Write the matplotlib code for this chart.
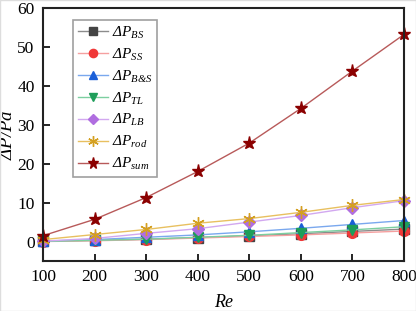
import matplotlib
matplotlib.use("Agg")
import matplotlib.pyplot as plt

re_vals = [100, 200, 300, 400, 500, 600, 700, 800]
dp_bs = [0.05, 0.3, 0.6, 1.0, 1.5, 2.0, 2.6, 3.2]
dp_ss = [0.0, 0.2, 0.5, 0.9, 1.3, 1.7, 2.2, 2.7]
dp_bs2 = [0.1, 0.5, 1.1, 1.7, 2.5, 3.4, 4.4, 5.4]
dp_tl = [0.05, 0.3, 0.6, 1.1, 1.6, 2.3, 3.0, 3.8]
dp_lb = [0.1, 0.8, 2.1, 3.3, 5.0, 6.7, 8.7, 10.5]
dp_rod = [0.5, 1.8, 3.1, 4.7, 5.9, 7.5, 9.3, 10.8]
dp_sum = [1.5, 5.7, 11.3, 18.0, 25.3, 34.2, 43.8, 53.2]

labels = [r"$ΔP_{BS}$", r"$ΔP_{SS}$", r"$ΔP_{B&S}$",
          r"$ΔP_{TL}$", r"$ΔP_{LB}$", r"$ΔP_{rod}$",
          r"$ΔP_{sum}$"]

plt.rcParams['font.family'] = ['Liberation Serif', 'DejaVu Serif']
plt.rcParams['mathtext.fontset'] = 'custom'
plt.rcParams['mathtext.rm'] = 'Liberation Serif:italic'
plt.rcParams['mathtext.it'] = 'Liberation Serif:italic'

fig = plt.figure(figsize=(4.16, 3.11), dpi=100)
ax = fig.add_axes([43/416, 1-261/311, (404-43)/416, (261-8)/311])

series = [
    (dp_bs, '#444444', '#8c8c8c', 's', 6.5),
    (dp_ss, '#f03838', '#f5a0a0', 'o', 7),
    (dp_bs2, '#1a5fd8', '#7aa8ee', '^', 7.5),
    (dp_tl, '#1e9e5a', '#7ccfa0', 'v', 7.5),
    (dp_lb, '#b06ee0', '#d2a8f0', 'D', 6),
    (dp_rod, '#d4a020', '#e8c060', (6, 2, 0), 9),
    (dp_sum, '#8b0000', '#b85a5a', '*', 9.5),
]
for (vals, mc, lc, mk, ms), lab in zip(series, labels):
    ax.plot(re_vals, vals, color=lc, lw=1.0, marker=mk, ms=ms,
            markeredgecolor=mc, markerfacecolor=mc, markeredgewidth=1.0, label=lab, clip_on=False)

ax.set_xlim(100, 800)
ax.set_ylim(-5, 60)
ax.set_xticks(re_vals)
ax.set_yticks([0, 10, 20, 30, 40, 50, 60])
ax.tick_params(direction='in', length=5, width=1.2, labelsize=12.5, colors='black', pad=6)
for s in ax.spines.values():
    s.set_linewidth(1.5)
    s.set_color('#222222')

ax.set_xlabel("Re", fontsize=13, style='italic', labelpad=6)
ax.set_ylabel(r"$ΔP/Pa$", fontsize=13.5, labelpad=1)

leg = ax.legend(loc='upper left', bbox_to_anchor=(0.083, 0.952), fontsize=11, frameon=True,
                fancybox=False, edgecolor='#888888', handlelength=2.0, labelspacing=0.38,
                borderpad=0.3, handletextpad=0.25, borderaxespad=0, markerscale=0.85)
leg.get_frame().set_linewidth(1.2)

fig.patches.append(plt.Rectangle((0, 0), 1, 1, transform=fig.transFigure, fill=False,
                                 edgecolor='#dddddd', lw=1))
fig.savefig("out.png", dpi=100)
